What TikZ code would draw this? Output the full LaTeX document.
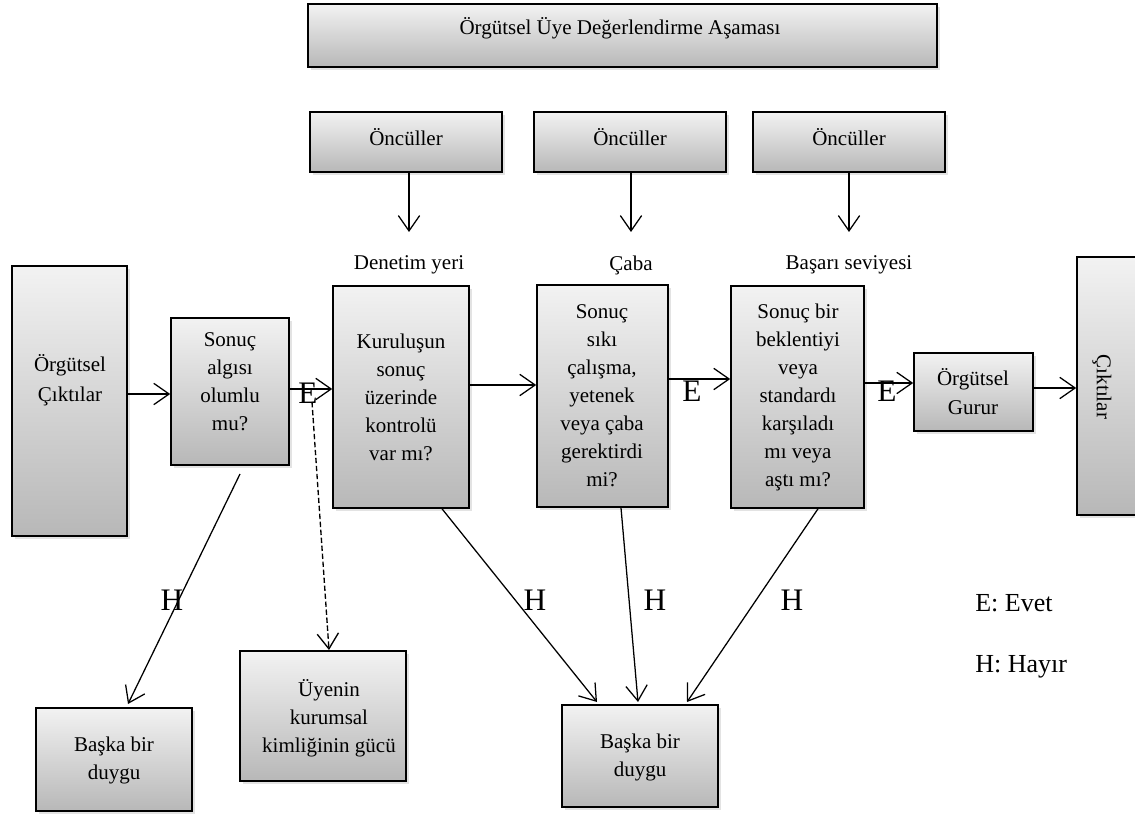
\documentclass[tikz,border=0pt]{standalone}
\usepackage{fontspec}
\setmainfont{Liberation Serif}
\usetikzlibrary{arrows.meta,shadows,fit}
\begin{document}
\begin{tikzpicture}[x=0.75pt,y=-0.75pt,
  box/.style={draw=black, line width=1.2pt, top color=black!5, bottom color=black!28, inner sep=0pt,
    drop shadow={opacity=0.22, shadow xshift=2pt, shadow yshift=-2pt}},
  txt/.style={font=\fontsize{15.75}{21}\selectfont, align=center, inner sep=0pt},
  big/.style={font=\fontsize{23.5}{26}\selectfont, inner sep=0pt},
  leg/.style={font=\fontsize{19.5}{22}\selectfont, inner sep=0pt, anchor=west},
  arr/.style={line width=0.95pt, -{Straight Barb[length=11.5pt,width=16pt]}},
  dasharr/.style={arr, line width=1pt, dash pattern=on 4pt off 2pt},
]
\path[use as bounding box] (0,0) rectangle (1135,816);
\clip (0,0) rectangle (1135,816);

% top
\node[box, fit={(308,4)(937,67)}] (top) {};
\node[txt] (toptx) at (620,28) {Örgütsel Üye Değerlendirme Aşaması};

% antecedents
\node[box, fit={(310,112)(502,172)}] (on1) {};
\node[txt] (on1tx) at (406,137) {Öncüller};
\node[box, fit={(534,112)(726,172)}] (on2) {};
\node[txt] (on2tx) at (630,137) {Öncüller};
\node[box, fit={(753,112)(945,172)}] (on3) {};
\node[txt] (on3tx) at (849,137) {Öncüller};

\node[txt] (den) at (409,265) {Denetim yeri};
\node[txt] (cab) at (631,265) {Çaba};
\node[txt] (bas) at (849,265) {Başarı seviyesi};

\coordinate (a1) at (409,232);
\coordinate (a2) at (631,232);
\coordinate (a3) at (849,232);
\draw[arr] (on1.south -| a1) -- (a1);
\draw[arr] (on2.south -| a2) -- (a2);
\draw[arr] (on3.south -| a3) -- (a3);

% main row
\node[box, fit={(12,266)(127,536)}] (oc) {};
\node[txt, font=\fontsize{15.75}{22.5}\selectfont] (octx) at (70,380) {Örgütsel\\Çıktılar};

\node[box, fit={(171,318)(289,465)}] (sa) {};
\node[txt] (satx) at (230,382) {Sonuç\\algısı\\olumlu\\mu?};

\node[box, fit={(333,286)(469,508)}] (kur) {};
\node[txt] (kurtx) at (401,397) {Kuruluşun\\sonuç\\üzerinde\\kontrolü\\var mı?};

\node[box, fit={(537,285)(668,507)}] (sik) {};
\node[txt] (siktx) at (602,396) {Sonuç\\sıkı\\çalışma,\\yetenek\\veya çaba\\gerektirdi\\mi?};

\node[box, fit={(731,286)(864,508)}] (bir) {};
\node[txt] (birtx) at (798,397) {Sonuç bir\\beklentiyi\\veya\\standardı\\karşıladı\\mı veya\\aştı mı?};

\node[box, fit={(914,353)(1033,431)}] (gur) {};
\node[txt, font=\fontsize{15.75}{21.75}\selectfont] (gurtx) at (973,392) {Örgütsel\\Gurur};

\node[box, fit={(1077,257)(1150,515)}] (cik) {};
\node[txt, rotate=-90] (ciktx) at (1102,387) {Çıktılar};

% bottom boxes
\node[box, fit={(240,651)(406,781)}] (uye) {};
\node[txt] (uyetx) at (329,718) {Üyenin\\kurumsal\\kimliğinin gücü};

\node[box, fit={(36,708)(192,811)}] (bd1) {};
\node[txt] (bd1tx) at (114,760) {Başka bir\\duygu};

\node[box, fit={(562,705)(718,807)}] (bd2) {};
\node[txt] (bd2tx) at (640,757) {Başka bir\\duygu};

% horizontal connectors
\coordinate (h1) at (0,394);
\coordinate (h2) at (0,389);
\coordinate (h3) at (0,385);
\coordinate (h4) at (0,379);
\coordinate (h5) at (0,383);
\coordinate (h6) at (0,388);
\draw[arr] (oc.east |- h1) -- (sa.west |- h1);
\draw[arr] (sa.east |- h2) -- (kur.west |- h2);
\draw[arr] (kur.east |- h3) -- (sik.west |- h3);
\draw[arr] (sik.east |- h4) -- (bir.west |- h4);
\draw[arr] (bir.east |- h5) -- (gur.west |- h5);
\draw[arr] (gur.east |- h6) -- (cik.west |- h6);

\node[big] (e1) at (308,393) {E};
\node[big] (e2) at (692,391) {E};
\node[big] (e3) at (887,391) {E};

% diagonal connectors
\coordinate (s1) at (240,474);
\coordinate (t1) at (128,704);
\draw[arr] (s1) -- (t1);

\coordinate (ds) at (312,402);
\coordinate (dt) at (329,650);
\draw[dasharr] (ds) -- (dt);

\coordinate (s2) at (442,508);
\coordinate (t2) at (597,702);
\draw[arr] (kur.south -| s2) -- (t2);
\coordinate (s3) at (621,507);
\coordinate (t3) at (638,702);
\draw[arr] (sik.south -| s3) -- (t3);
\coordinate (s4) at (818,508);
\coordinate (t4) at (687,702);
\draw[arr] (bir.south -| s4) -- (t4);

\node[big] (hl1) at (172,600) {H};
\node[big] (hl2) at (535,600) {H};
\node[big] (hl3) at (655,600) {H};
\node[big] (hl4) at (792,600) {H};

\node[leg] (lege) at (975,603) {E: Evet};
\node[leg] (legh) at (975,667) {H: Hayır};
\end{tikzpicture}
\end{document}
